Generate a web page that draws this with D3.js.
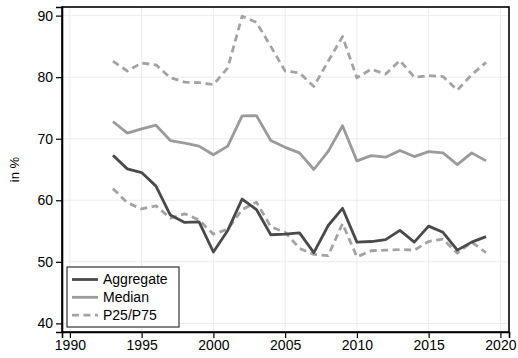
<!DOCTYPE html>
<html lang="en">
<head>
<meta charset="UTF-8">
<title>Shares over time</title>
<script src="https://cdn.jsdelivr.net/npm/d3@7"></script>
<style>
    body { margin: 0; background: #fff; }
    text { font-family: "Liberation Sans", Arial, sans-serif; }
</style>
</head>
<body>
<div id="chart"></div>
<script>
"use strict";

// data
var years = d3.range(1993, 2020);
var aggregate = [67.3, 65.1, 64.5, 62.3, 57.6, 56.4, 56.5, 51.6, 55.1, 60.2, 58.5, 54.4, 54.5,
    54.7, 51.5, 55.9, 58.7, 53.2, 53.3, 53.6, 55.1, 53.2, 55.8, 54.8, 51.9, 53.2, 54.1];
var median = [72.8, 70.9, 71.6, 72.2, 69.7, 69.3, 68.8, 67.4, 68.8, 73.7, 73.75, 69.7, 68.6,
    67.7, 65.0, 67.95, 72.1, 66.4, 67.25, 67.0, 68.1, 67.1, 67.9, 67.7, 65.8, 67.7, 66.4];
var p75 = [82.6, 81.0, 82.3, 82.0, 79.9, 79.2, 79.1, 78.8, 81.5, 89.9, 88.9, 85.0, 81.0,
    80.7, 78.5, 82.6, 86.6, 79.9, 81.3, 80.5, 82.7, 80.0, 80.25, 80.1, 77.9, 80.4, 82.4];
var p25 = [61.9, 59.6, 58.6, 59.1, 57.1, 57.8, 56.8, 54.5, 55.3, 58.5, 59.7, 55.7, 54.8,
    52.2, 51.2, 51.0, 56.2, 50.8, 51.8, 51.9, 52.0, 51.9, 53.3, 53.7, 51.4, 53.2, 51.5];
var xTicks = [1990, 1995, 2000, 2005, 2010, 2015, 2020];
var yTicks = [40, 50, 60, 70, 80, 90];
var legendLabels = ["Aggregate", "Median", "P25/P75"];

var width = 518, height = 358;
var margin = { top: 7, right: 9, bottom: 26, left: 62 };

var svg = d3.select("#chart").append("svg")
    .attr("width", width)
    .attr("height", height);

var x = d3.scaleLinear()
    .domain([1989.45, 2020.6])
    .range([margin.left, width - margin.right]);

var y = d3.scaleLinear()
    .domain([38.6, 91.4])
    .range([height - margin.bottom, margin.top]);

// grid
svg.append("g").selectAll("line.h").data(yTicks).enter().append("line")
    .attr("x1", margin.left).attr("x2", width - margin.right)
    .attr("y1", function(d) { return y(d); }).attr("y2", function(d) { return y(d); })
    .attr("stroke", "#ebebeb").attr("stroke-width", 1);

svg.append("g").selectAll("line.v").data(xTicks).enter().append("line")
    .attr("y1", margin.top).attr("y2", height - margin.bottom)
    .attr("x1", function(d) { return x(d); }).attr("x2", function(d) { return x(d); })
    .attr("stroke", "#ebebeb").attr("stroke-width", 1);

// lines
var line = d3.line()
    .x(function(d, i) { return x(years[i]); })
    .y(function(d) { return y(d); });

var series = [
    { values: p75, color: "#a3a3a3", dash: "7,4.5" },
    { values: p25, color: "#a3a3a3", dash: "7,4.5" },
    { values: median, color: "#9b9b9b", dash: null },
    { values: aggregate, color: "#4a4a4a", dash: null }
];

svg.append("g").selectAll("path").data(series).enter().append("path")
    .attr("d", function(d) { return line(d.values); })
    .attr("fill", "none")
    .attr("stroke", function(d) { return d.color; })
    .attr("stroke-width", 2.8)
    .attr("stroke-linejoin", "round")
    .attr("stroke-dasharray", function(d) { return d.dash; });

// frame
svg.append("rect")
    .attr("x", margin.left).attr("y", margin.top)
    .attr("width", width - margin.left - margin.right)
    .attr("height", height - margin.top - margin.bottom)
    .attr("fill", "none").attr("stroke", "#000").attr("stroke-width", 1.6);

// axes
var xAxis = svg.append("g")
    .attr("transform", "translate(0," + (height - margin.bottom) + ")")
    .call(d3.axisBottom(x).tickValues(xTicks).tickFormat(d3.format("d")).tickSize(6).tickPadding(2));

var yAxis = svg.append("g")
    .attr("transform", "translate(" + margin.left + ",0)")
    .call(d3.axisLeft(y).tickValues(yTicks).tickSize(6).tickPadding(3));

[xAxis, yAxis].forEach(function(a) {
    a.select(".domain").attr("stroke", "#000").attr("stroke-width", 1.6);
    a.selectAll(".tick line").attr("stroke", "#000").attr("stroke-width", 1.2);
    a.selectAll(".tick text").attr("fill", "#000").style("font-size", "14px")
        .style("font-family", "'Liberation Sans', Arial, sans-serif");
});

svg.append("text")
    .attr("transform", "translate(19," + y(65) + ") rotate(-90)")
    .attr("text-anchor", "middle")
    .attr("font-size", 13)
    .text("in %");

// legend
var legend = svg.append("g").attr("transform", "translate(67,267)");

legend.append("rect")
    .attr("width", 112).attr("height", 60)
    .attr("fill", "#fff").attr("stroke", "#333").attr("stroke-width", 1.2);

var legendItems = [
    { label: legendLabels[0], color: "#4a4a4a", dash: null },
    { label: legendLabels[1], color: "#9b9b9b", dash: null },
    { label: legendLabels[2], color: "#a3a3a3", dash: "7,4.5" }
];

var row = legend.selectAll("g.row").data(legendItems).enter().append("g")
    .attr("transform", function(d, i) { return "translate(0," + (12.5 + i * 17.8) + ")"; });

row.append("line")
    .attr("x1", 5).attr("x2", 31)
    .attr("stroke", function(d) { return d.color; })
    .attr("stroke-width", 2.8)
    .attr("stroke-dasharray", function(d) { return d.dash; });

row.append("text")
    .attr("x", 36).attr("dy", "0.35em")
    .attr("font-size", 14)
    .text(function(d) { return d.label; });
</script>
</body>
</html>
